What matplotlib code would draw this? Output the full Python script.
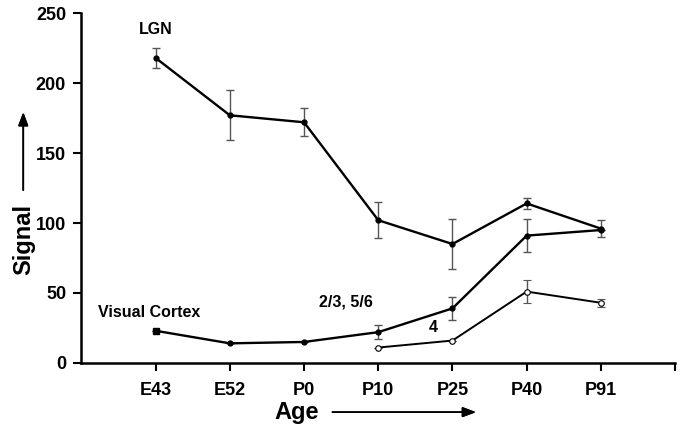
"""Signal vs age for LGN and visual cortex layers."""
import matplotlib.pyplot as plt
import numpy as np

plt.rcParams["font.family"] = ["Liberation Sans", "DejaVu Sans"]
plt.rcParams["font.weight"] = "bold"

# ------------------ DATA ------------------ #
AGES = ["E43", "E52", "P0", "P10", "P25", "P40", "P91"]

LGN = [218, 177, 172, 102, 85, 114, 96]
LGN_ERR = [7, 18, 10, 13, 18, 4, 6]

CTX_SUPRA = [23, 14, 15, 22, 39, 91, 95]  # layers 2/3, 5/6
CTX_SUPRA_ERR = [0, 0, 0, 5, 8, 12, 0]

L4_AGES = ["P10", "P25", "P40", "P91"]
CTX_L4 = [11, 16, 51, 43]
CTX_L4_ERR = [0, 0, 8, 3]
# ---------------- END DATA ---------------- #

x = np.arange(len(AGES))
x4 = np.array([AGES.index(a) for a in L4_AGES])

fig = plt.figure(figsize=(6.84, 4.24), dpi=100)
ax = fig.add_axes([0.119, 0.144, 0.868, 0.825])

err_kw = dict(ecolor="#555555", elinewidth=1.0, capsize=3, capthick=1.0)

ax.errorbar(x, LGN, yerr=LGN_ERR, color="black", lw=1.7, marker="o",
            ms=3.5, **err_kw)
ax.errorbar(x, CTX_SUPRA, yerr=CTX_SUPRA_ERR, color="black", lw=1.7,
            marker="o", ms=3.5, **err_kw)
ax.plot(x[0], CTX_SUPRA[0], "ks", ms=4)
ax.errorbar(x4, CTX_L4, yerr=CTX_L4_ERR, color="black", lw=1.4, marker="o",
            ms=4, mfc="white", mec="black", mew=0.8, **err_kw)

ax.set_xlim(-1, 7)
ax.set_ylim(0, 250)
ax.set_xticks(np.arange(0, 8))
ax.set_xticklabels(AGES + [""])
ax.set_yticks(np.arange(0, 251, 50))
ax.tick_params(axis="both", labelsize=13, width=1.5, length=6)
ax.tick_params(axis="x", pad=8)
ax.tick_params(axis="y", pad=5)
for lbl in ax.get_xticklabels() + ax.get_yticklabels():
    lbl.set_fontweight("bold")

for side in ["top", "right"]:
    ax.spines[side].set_visible(False)
for side in ["left", "bottom"]:
    ax.spines[side].set_linewidth(1.8)

ax.text(0, 238, "LGN", fontsize=11.5, fontweight="bold", ha="center",
        va="center")
ax.text(-0.77, 36, "Visual Cortex", fontsize=11.5, fontweight="bold",
        ha="left", va="center")
ax.text(2.57, 43.5, "2/3, 5/6", fontsize=11.5, fontweight="bold",
        ha="center", va="center")
ax.text(3.74, 25.5, "4", fontsize=11.5, fontweight="bold", ha="center",
        va="center")

# Axis titles with arrows
fig.text(0.035, 0.434, "Signal", rotation=90, fontsize=17, fontweight="bold",
         ha="center", va="center")
fig.add_artist(plt.annotate(
    "", xy=(0.034, 0.742), xytext=(0.034, 0.545), xycoords="figure fraction",
    arrowprops=dict(arrowstyle="-|>,head_width=0.3,head_length=0.8",
                    color="black", lw=1.2)))
fig.text(0.433, 0.028, "Age", fontsize=17, fontweight="bold",
         ha="center", va="center")
fig.add_artist(plt.annotate(
    "", xy=(0.700, 0.028), xytext=(0.482, 0.028), xycoords="figure fraction",
    arrowprops=dict(arrowstyle="-|>,head_width=0.3,head_length=0.8",
                    color="black", lw=1.2)))

plt.savefig("out.png", dpi=100)
